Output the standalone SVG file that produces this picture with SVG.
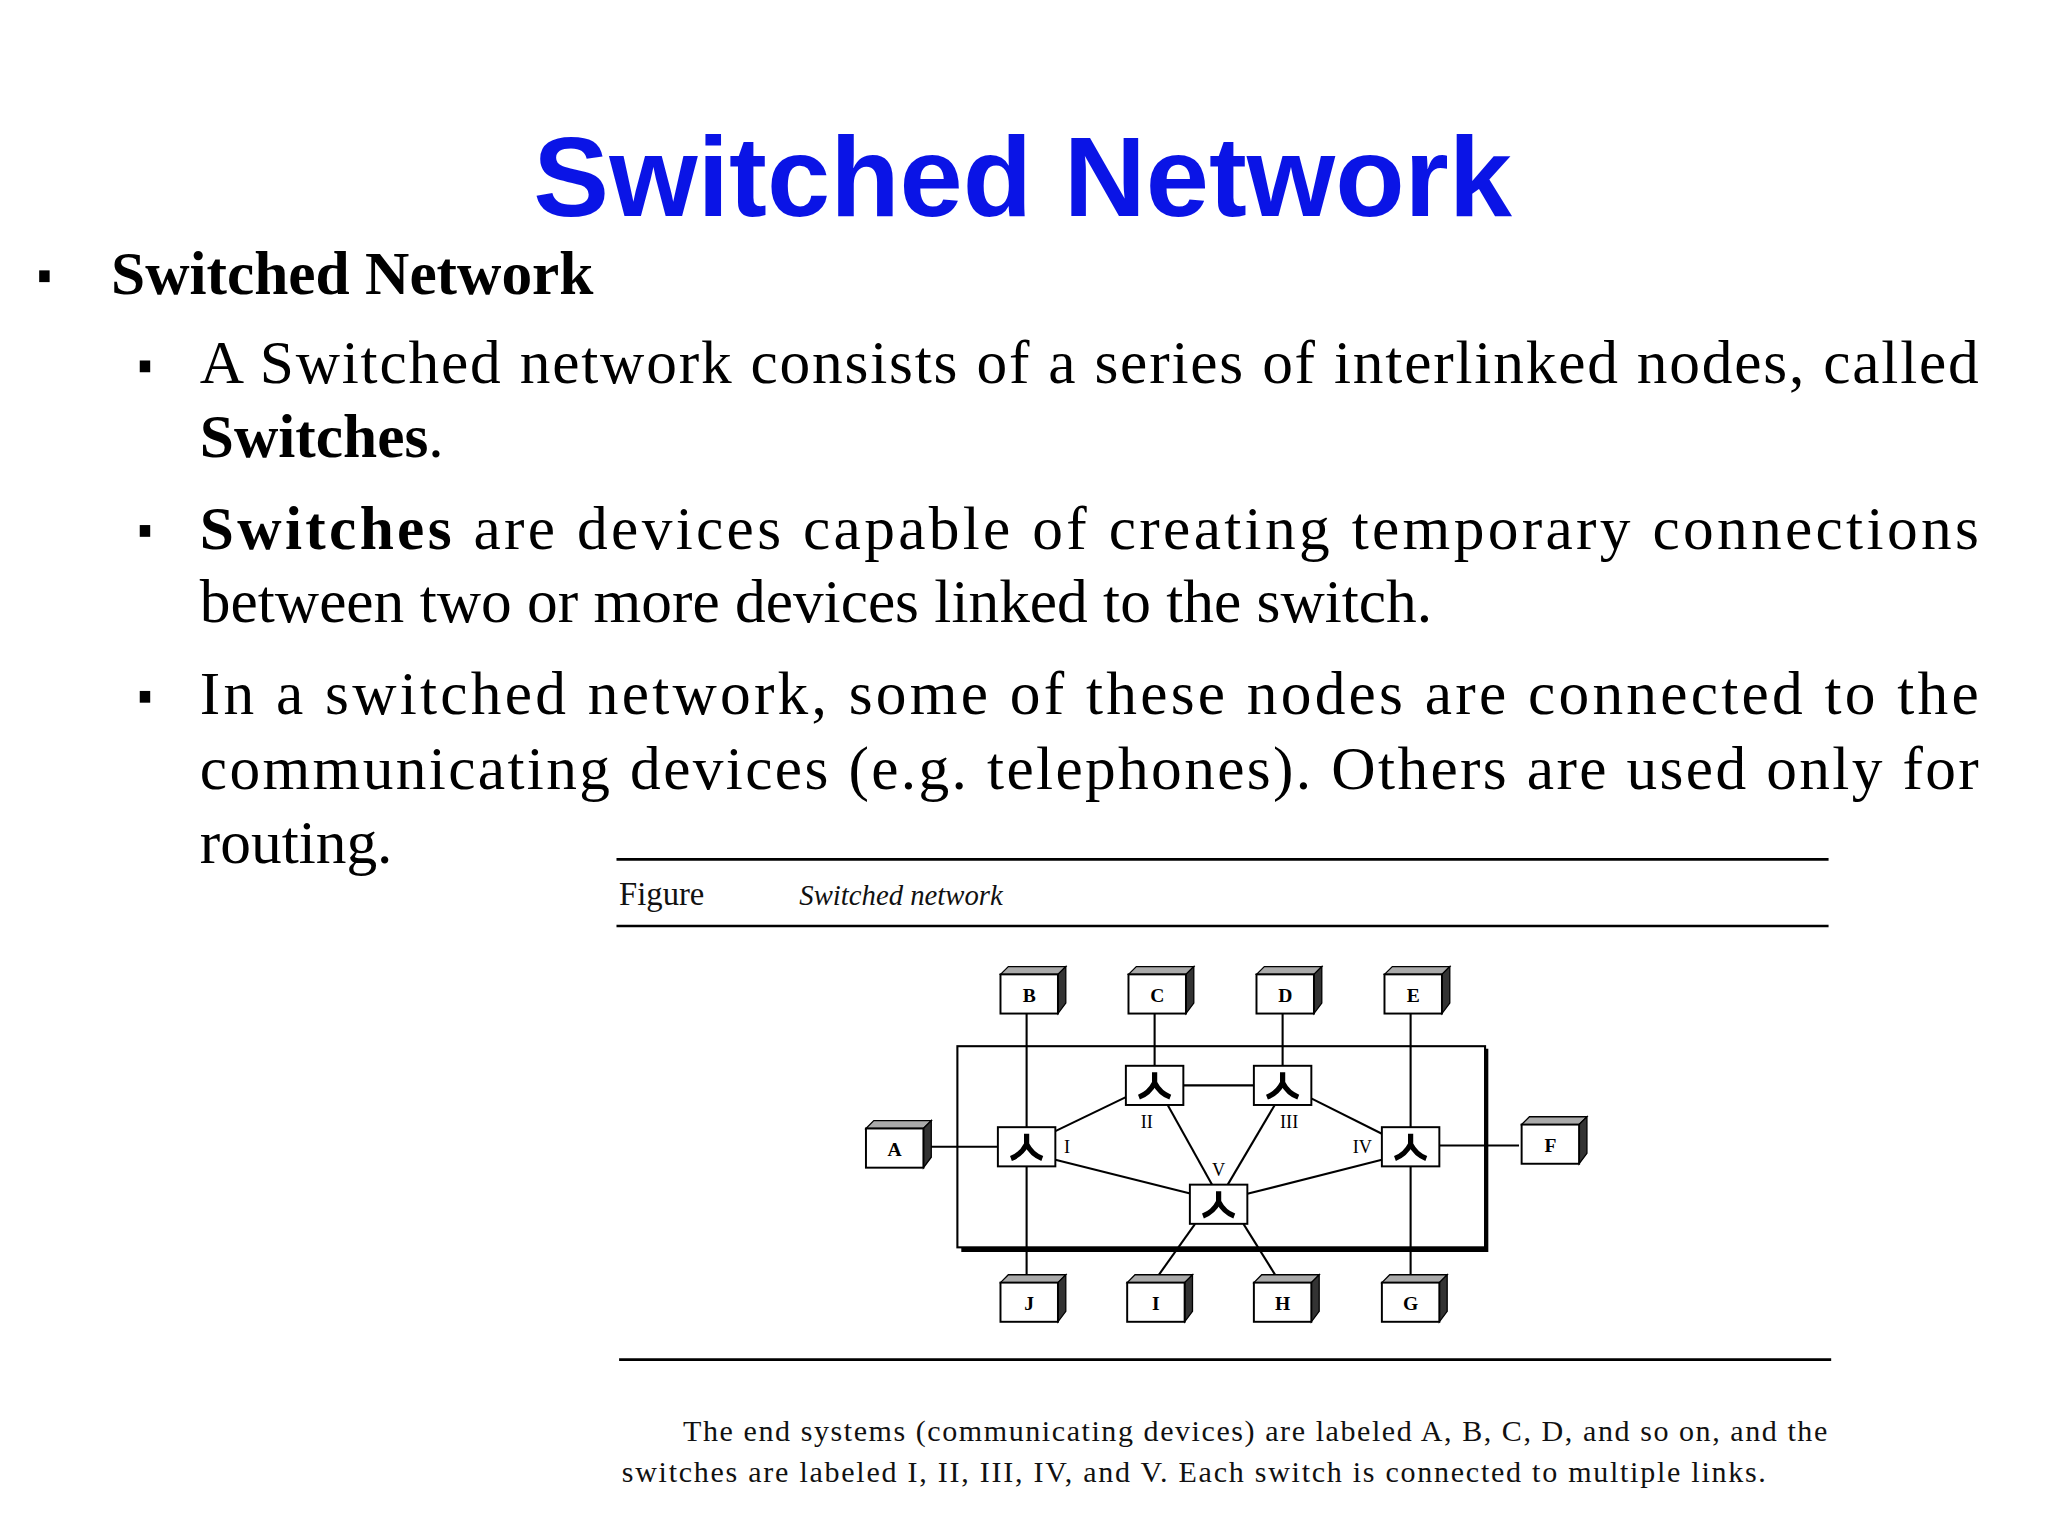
<svg xmlns="http://www.w3.org/2000/svg" width="2048" height="1536" viewBox="0 0 2048 1536">
<style>
.body{font-family:"Liberation Serif","Times New Roman",serif;font-size:47px;fill:#000}
.b{font-weight:bold}
.fig{font-family:"Liberation Serif",serif;fill:#111}
.lbl{font-family:"Liberation Serif",serif;font-size:15px;font-weight:bold;fill:#000;text-anchor:middle}
.sl{font-family:"Liberation Serif",serif;font-size:14px;fill:#000;text-anchor:middle}
.ln{stroke:#000;stroke-width:1.6;fill:none}
</style>
<defs>
<g id="dev">
<path d="M-20,-16 l6,-6 h44 l-6,6 z" fill="#aaa" stroke="#000" stroke-width="1"/>
<path d="M24,-16 l6,-6 v28 l-6,8 z" fill="#333" stroke="#000" stroke-width="1"/>
<rect x="-20" y="-16" width="44" height="30" fill="#fff" stroke="#000" stroke-width="1.5"/>
</g>
<g id="sw">
<rect x="-22" y="-15" width="44" height="30" fill="#fff" stroke="#000" stroke-width="1.5"/>
<path d="M0,-10 V-2 M0,-2 Q-4,6 -12,9 M0,-2 Q4,6 12,9" stroke="#000" stroke-width="4" fill="none"/>
</g>
</defs>
<rect width="2048" height="1536" fill="#fff"/>
<g transform="scale(1.30612)">
<g id="title"><text x="783" y="165" text-anchor="middle" font-family="Liberation Sans,Arial,sans-serif" font-weight="bold" font-size="87" fill="#0a14e6">Switched Network</text></g>
<g id="text">
<rect x="30" y="207" width="8" height="9" fill="#000"/>
<text class="body b" x="85" y="225">Switched Network</text>
<rect x="107" y="276" width="8" height="9" fill="#000"/>
<text class="body" x="153" y="293" textLength="1362" lengthAdjust="spacing">A Switched network consists of a series of interlinked  nodes, called</text>
<text class="body" x="153" y="350"><tspan class="b">Switches</tspan>.</text>
<rect x="107" y="402" width="8" height="9" fill="#000"/>
<text class="body" x="153" y="420" textLength="1362" lengthAdjust="spacing"><tspan class="b">Switches</tspan> are devices capable of creating temporary connections</text>
<text class="body" x="153" y="476">between two or more devices linked to the switch.</text>
<rect x="107" y="529" width="8" height="9" fill="#000"/>
<text class="body" x="153" y="547" textLength="1362" lengthAdjust="spacing">In a switched network, some of these nodes are connected to the</text>
<text class="body" x="153" y="604" textLength="1362" lengthAdjust="spacing">communicating devices (e.g. telephones). Others are used only for</text>
<text class="body" x="153" y="661">routing.</text>
</g>
<g id="figure-frame">
<line x1="472" y1="658" x2="1400" y2="658" stroke="#000" stroke-width="2"/>
<text class="fig" x="474" y="693" font-size="25">Figure</text>
<text class="fig" x="612" y="693" font-size="22" font-style="italic">Switched network</text>
<line x1="472" y1="709" x2="1400" y2="709" stroke="#000" stroke-width="2"/>
<line x1="474" y1="1041" x2="1402" y2="1041" stroke="#000" stroke-width="2"/>
<text class="fig" x="523" y="1103" font-size="23" textLength="876" lengthAdjust="spacing">The end systems (communicating devices) are labeled A, B, C, D, and so on, and the</text>
<text class="fig" x="476" y="1135" font-size="23" textLength="876" lengthAdjust="spacing">switches are labeled I, II, III, IV, and V. Each switch is connected to multiple links.</text>
</g>
<g id="cloud"><rect x="733" y="801" width="404" height="154" fill="none" stroke="#000" stroke-width="1.6"/><path d="M1138,803 V957 H736" fill="none" stroke="#000" stroke-width="3"/></g>
<g id="connectors" class="ln">
<line x1="786" y1="776" x2="786" y2="982"/>
<line x1="1080" y1="776" x2="1080" y2="982"/>
<line x1="884" y1="776" x2="884" y2="816"/>
<line x1="982" y1="776" x2="982" y2="816"/>
<line x1="707" y1="878" x2="764" y2="878"/>
<line x1="1102" y1="877" x2="1163" y2="877"/>
<line x1="906" y1="831" x2="960" y2="831"/>
<line x1="808" y1="866" x2="862" y2="840"/>
<line x1="808" y1="888" x2="912" y2="914"/>
<line x1="894" y1="846" x2="928" y2="907"/>
<line x1="976" y1="846" x2="940" y2="907"/>
<line x1="1002" y1="840" x2="1058" y2="868"/>
<line x1="1058" y1="888" x2="955" y2="914"/>
<line x1="915" y1="937" x2="883" y2="982"/>
<line x1="952" y1="937" x2="980" y2="982"/>
</g>
<g id="sw-I"><use href="#sw" x="786" y="878"/><text class="sl" x="817" y="883">I</text></g>
<g id="sw-II"><use href="#sw" x="884" y="831"/><text class="sl" x="878" y="864">II</text></g>
<g id="sw-III"><use href="#sw" x="982" y="831"/><text class="sl" x="987" y="864">III</text></g>
<g id="sw-IV"><use href="#sw" x="1080" y="878"/><text class="sl" x="1043" y="883">IV</text></g>
<g id="sw-V"><use href="#sw" x="933" y="922"/><text class="sl" x="933" y="900">V</text></g>
<g id="dev-B"><use href="#dev" x="786" y="762"/><text class="lbl" x="788" y="767">B</text></g>
<g id="dev-C"><use href="#dev" x="884" y="762"/><text class="lbl" x="886" y="767">C</text></g>
<g id="dev-D"><use href="#dev" x="982" y="762"/><text class="lbl" x="984" y="767">D</text></g>
<g id="dev-E"><use href="#dev" x="1080" y="762"/><text class="lbl" x="1082" y="767">E</text></g>
<g id="dev-A"><use href="#dev" x="683" y="880"/><text class="lbl" x="685" y="885">A</text></g>
<g id="dev-F"><use href="#dev" x="1185" y="877"/><text class="lbl" x="1187" y="882">F</text></g>
<g id="dev-J"><use href="#dev" x="786" y="998"/><text class="lbl" x="788" y="1003">J</text></g>
<g id="dev-I"><use href="#dev" x="883" y="998"/><text class="lbl" x="885" y="1003">I</text></g>
<g id="dev-H"><use href="#dev" x="980" y="998"/><text class="lbl" x="982" y="1003">H</text></g>
<g id="dev-G"><use href="#dev" x="1078" y="998"/><text class="lbl" x="1080" y="1003">G</text></g>
</g>
</svg>
